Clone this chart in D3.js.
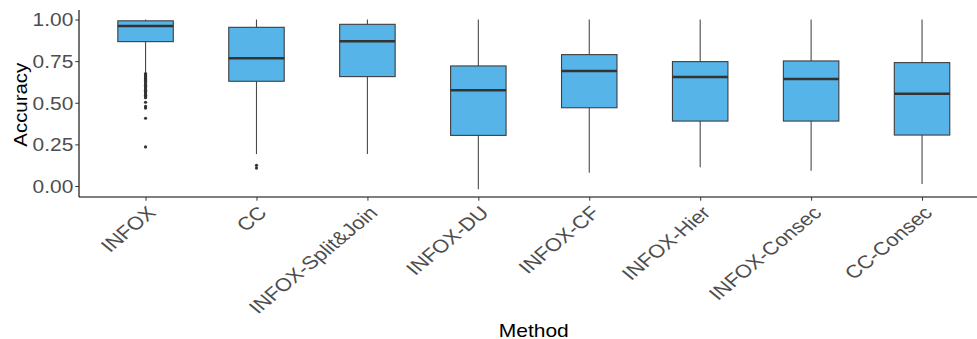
<!DOCTYPE html>
<html>
<head>
<meta charset="utf-8">
<script src="https://cdn.jsdelivr.net/npm/d3@7"></script>
<style>
  html, body { margin: 0; padding: 0; background: #fff; }
  svg { display: block; font-family: "Liberation Sans", Arial, sans-serif; }
</style>
</head>
<body>
<svg id="chart" width="977" height="339"></svg>
<script>
// Accuracy distribution per method (box-plot summary statistics)
const methods = ["INFOX", "CC", "INFOX-Split&Join", "INFOX-DU", "INFOX-CF", "INFOX-Hier", "INFOX-Consec", "CC-Consec"];
const whiskerHigh = [1.00, 1.00, 1.00, 1.00, 1.00, 1.00, 1.00, 1.00];
const q3Values    = [0.992, 0.953, 0.971, 0.721, 0.789, 0.747, 0.751, 0.741];
const medians     = [0.961, 0.767, 0.869, 0.575, 0.691, 0.655, 0.643, 0.554];
const q1Values    = [0.867, 0.629, 0.657, 0.304, 0.470, 0.390, 0.390, 0.306];
const whiskerLow  = [0.680, 0.192, 0.192, -0.020, 0.080, 0.112, 0.092, 0.012];
const outliers = [
  [0.675, 0.668, 0.662, 0.656, 0.650, 0.645, 0.640, 0.634, 0.628, 0.620, 0.612, 0.605,
   0.598, 0.590, 0.582, 0.575, 0.568, 0.560, 0.552, 0.545, 0.538, 0.530, 0.503, 0.478,
   0.468, 0.407, 0.235],
  [0.124, 0.108],
  [], [], [], [], [], []
];
const yTicks = [0, 0.25, 0.5, 0.75, 1.0];

const svg = d3.select("#chart");
const panel = { left: 79, right: 988.6, top: 10, bottom: 197 };
const stretchX = 1.2; // text is drawn slightly wide

const x = d3.scalePoint().domain(methods).range([panel.left, panel.right]).padding(0.6);
const y = d3.scaleLinear().domain([-0.066, 1.057]).range([panel.bottom, panel.top]);
const boxW = x.step() * 0.5;

const rows = methods.map((m, i) => ({
  m, hi: whiskerHigh[i], q3: q3Values[i], med: medians[i], q1: q1Values[i], lo: whiskerLow[i], out: outliers[i]
}));

const g = svg.append("g");

// whiskers
g.selectAll("line.whisker-up").data(rows).join("line")
  .attr("x1", d => x(d.m)).attr("x2", d => x(d.m))
  .attr("y1", d => y(d.hi)).attr("y2", d => y(d.q3))
  .attr("stroke", "#4a4a4a").attr("stroke-width", 1.1);
g.selectAll("line.whisker-down").data(rows).join("line")
  .attr("x1", d => x(d.m)).attr("x2", d => x(d.m))
  .attr("y1", d => y(d.q1)).attr("y2", d => y(d.lo))
  .attr("stroke", "#4a4a4a").attr("stroke-width", 1.1);

// boxes
g.selectAll("rect.box").data(rows).join("rect")
  .attr("x", d => x(d.m) - boxW / 2).attr("width", boxW)
  .attr("y", d => y(d.q3)).attr("height", d => y(d.q1) - y(d.q3))
  .attr("fill", "#56B4E9").attr("stroke", "#3d3d3d").attr("stroke-width", 1.1);

// medians
g.selectAll("line.median").data(rows).join("line")
  .attr("x1", d => x(d.m) - boxW / 2).attr("x2", d => x(d.m) + boxW / 2)
  .attr("y1", d => y(d.med)).attr("y2", d => y(d.med))
  .attr("stroke", "#333333").attr("stroke-width", 2.6);

// outlier points
const pts = rows.flatMap(d => d.out.map(v => ({ m: d.m, v })));
g.selectAll("circle.out").data(pts).join("circle")
  .attr("cx", d => x(d.m)).attr("cy", d => y(d.v)).attr("r", 1.6)
  .attr("fill", "#333333");

// y axis
const yAxis = svg.append("g").attr("transform", `translate(${panel.left},0)`)
  .call(d3.axisLeft(y).tickValues(yTicks).tickFormat(d3.format(".2f")).tickSize(3.7).tickPadding(2));
yAxis.select(".domain").attr("d", `M0,${panel.top}V${panel.bottom}`).attr("stroke", "#000").attr("stroke-width", 1.1);
yAxis.selectAll(".tick line").attr("stroke", "#333");
yAxis.selectAll(".tick text")
  .attr("fill", "#4d4d4d").style("font-size", "17.6px").attr("dy", "0.36em")
  .attr("textLength", 40.7).attr("lengthAdjust", "spacingAndGlyphs");

// x axis
const xAxis = svg.append("g").attr("transform", `translate(0,${panel.bottom})`)
  .call(d3.axisBottom(x).tickSize(3.7).tickPadding(0));
xAxis.select(".domain").attr("d", `M${panel.left},0H${panel.right}`).attr("stroke", "#000").attr("stroke-width", 1.1);
xAxis.selectAll(".tick line").attr("stroke", "#333");
xAxis.selectAll(".tick text")
  .attr("fill", "#4d4d4d").style("font-size", "18.2px")
  .attr("text-anchor", "end")
  .attr("x", 0).attr("y", 0).attr("dy", 0)
  .attr("transform", `translate(11,17) scale(${stretchX},1) rotate(-45)`);

// axis titles
svg.append("text")
  .attr("x", (panel.left + panel.right) / 2).attr("y", 336.5)
  .attr("text-anchor", "middle").attr("fill", "#000").style("font-size", "18.6px")
  .attr("textLength", 70).attr("lengthAdjust", "spacingAndGlyphs")
  .text("Method");
svg.append("text")
  .attr("transform", `translate(26.5,104.7) rotate(-90)`)
  .attr("text-anchor", "middle").attr("fill", "#000").style("font-size", "19px")
  .attr("textLength", 84).attr("lengthAdjust", "spacingAndGlyphs")
  .text("Accuracy");
</script>
</body>
</html>
